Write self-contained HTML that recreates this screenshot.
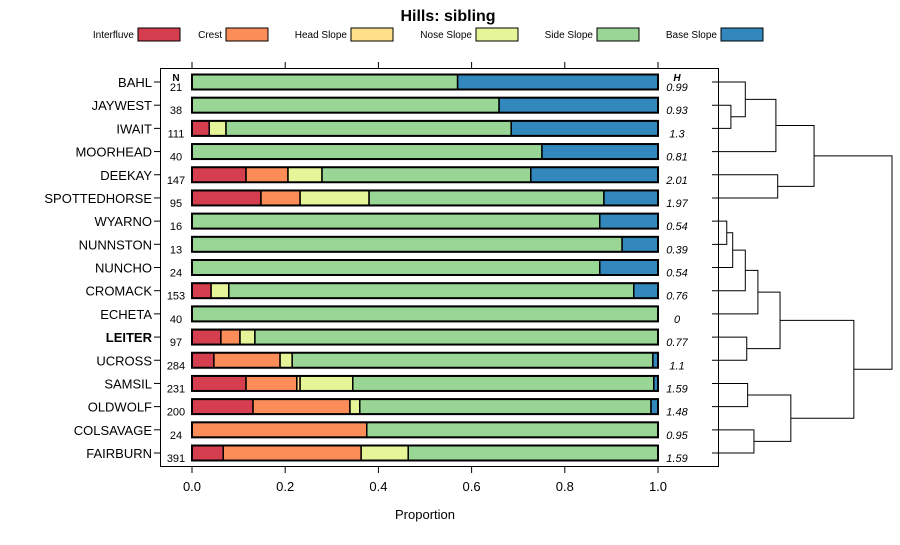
<!DOCTYPE html>
<html><head><meta charset="utf-8"><style>
body{margin:0;background:#fff;}
svg{font-family:"Liberation Sans",sans-serif;}
</style></head><body>
<svg id="c" width="900" height="540" xmlns="http://www.w3.org/2000/svg"></svg>
<script>
const sites=["BAHL","JAYWEST","IWAIT","MOORHEAD","DEEKAY","SPOTTEDHORSE","WYARNO","NUNNSTON","NUNCHO","CROMACK","ECHETA","LEITER","UCROSS","SAMSIL","OLDWOLF","COLSAVAGE","FAIRBURN"];
const nVals=[21,38,111,40,147,95,16,13,24,153,40,97,284,231,200,24,391];
const hVals=["0.99","0.93","1.3","0.81","2.01","1.97","0.54","0.39","0.54","0.76","0","0.77","1.1","1.59","1.48","0.95","1.59"];
const classes=["Interfluve","Crest","Head Slope","Nose Slope","Side Slope","Base Slope"];
const colors=["#D53E4F","#FC8D59","#FEE08B","#E6F598","#99D594","#3288BD"];
const interfluve=[0,0,0.037,0,0.116,0.148,0,0,0,0.041,0,0.062,0.047,0.116,0.131,0,0.067];
const crest=[0,0,0,0,0.090,0.084,0,0,0,0,0,0.041,0.142,0.109,0.208,0.375,0.296];
const headSlope=[0,0,0,0,0,0,0,0,0,0,0,0,0,0.007,0,0,0];
const noseSlope=[0,0,0.036,0,0.073,0.148,0,0,0,0.038,0,0.032,0.026,0.113,0.021,0,0.101];
const sideSlope=[0.570,0.659,0.612,0.751,0.448,0.504,0.875,0.923,0.875,0.869,1,0.865,0.774,0.646,0.625,0.625,0.536];
const baseSlope=[0.430,0.341,0.315,0.249,0.273,0.116,0.125,0.077,0.125,0.052,0,0,0.011,0.009,0.015,0,0];
const series=[interfluve,crest,headSlope,noseSlope,sideSlope,baseSlope];
const xTicks=[0,0.2,0.4,0.6,0.8,1];
// dendrogram merges: negative = leaf index -(i+1), positive = merge number (1-based)
const mergeLeft=[-2,-1,2,-5,3,-7,6,7,8,-12,9,-14,-16,12,11,5];
const mergeRight=[-3,1,-4,-6,4,-8,-9,-10,-11,-13,10,-15,-17,13,14,15];
const mergeHeight=[0.105,0.185,0.355,0.365,0.567,0.082,0.115,0.185,0.255,0.193,0.378,0.198,0.233,0.438,0.788,1.0];

const NS="http://www.w3.org/2000/svg";
const svg=document.getElementById('c');
function mk(tag,attrs,parent){const e=document.createElementNS(NS,tag);for(const k in attrs)e.setAttribute(k,attrs[k]);(parent||svg).appendChild(e);return e;}
const x0=192,x1=658;
const xs=v=>x0+(x1-x0)*v;
const yTop=82,yStep=(453-82)/16;
const ys=i=>yTop+i*yStep;

let t=mk('text',{x:448,y:21,'text-anchor':'middle','font-size':16,'font-weight':'bold'});t.textContent='Hills: sibling';



const legEnd=[134,222,347,472,593,717];
classes.forEach((c,i)=>{
  const g=mk('g',{});
  
  
  const tx=mk('text',{x:legEnd[i],y:38,'text-anchor':'end','font-size':10},g);tx.textContent=c;
  mk('rect',{x:legEnd[i]+4,y:28,width:42,height:13,fill:colors[i],stroke:'#000','stroke-width':1},g);
});

const panel=mk('rect',{x:160.5,y:68.5,width:558,height:398,fill:'none',stroke:'#000','stroke-width':1});



xTicks.forEach(v=>{
  mk('line',{x1:xs(v),x2:xs(v),y1:467,y2:473,stroke:'#000'});
  mk('line',{x1:xs(v),x2:xs(v),y1:62,y2:68,stroke:'#000'});
  const tl=mk('text',{x:xs(v),y:491,'text-anchor':'middle','font-size':13});tl.textContent=v===0||v===1?v.toFixed(1):String(v);
  
  
});
let xt=mk('text',{x:425,y:519,'text-anchor':'middle','font-size':13});xt.textContent='Proportion';



let nh=mk('text',{x:176,y:81,'text-anchor':'middle','font-size':10,'font-weight':'bold'});nh.textContent='N';


let hh=mk('text',{x:677,y:81,'text-anchor':'middle','font-size':10,'font-weight':'bold','font-style':'italic'});hh.textContent='H';



sites.forEach((s,i)=>{
  const y=ys(i);
  mk('line',{x1:154,x2:160,y1:y,y2:y,stroke:'#000'});
  const lb=mk('text',{x:152,y:y+5,'text-anchor':'end','font-size':13,'font-weight':s==='LEITER'?'bold':'normal'});lb.textContent=s;
  
  
  const nt=mk('text',{x:176,y:y+9,'text-anchor':'middle','font-size':11});nt.textContent=nVals[i];
  
  
  const ht=mk('text',{x:677,y:y+9,'text-anchor':'middle','font-size':11,'font-style':'italic'});ht.textContent=hVals[i];
  
  
  let cum=0;
  series.forEach((arr,k)=>{
    const v=arr[i];if(v<=0)return;
    const r=mk('rect',{x:xs(cum),y:y-7.5,width:xs(cum+v)-xs(cum),height:15,fill:colors[k],stroke:'#000','stroke-width':1.5});
    
    
    cum+=v;
  });
  mk('rect',{x:x0,y:y-7.5,width:x1-x0,height:15,fill:'none',stroke:'#000','stroke-width':2});
});

const dx0=712,dx1=892;
const dxs=h=>dx0+(dx1-dx0)*h;
const nodeY=[];
function yOf(ref){return ref<0?ys(-ref-1):nodeY[ref-1];}
function xOf(ref){return ref<0?dx0:dxs(mergeHeight[ref-1]);}
const dg=mk('g',{fill:'none',stroke:'#000','stroke-width':1});


mergeLeft.forEach((l,m)=>{
  const r=mergeRight[m];const hx=dxs(mergeHeight[m]);
  const ya=yOf(l),yb=yOf(r);
  mk('path',{d:`M${xOf(l)},${ya}H${hx}V${yb}H${xOf(r)}`},dg);
  nodeY[m]=(ya+yb)/2;
});
</script>
</body></html>
